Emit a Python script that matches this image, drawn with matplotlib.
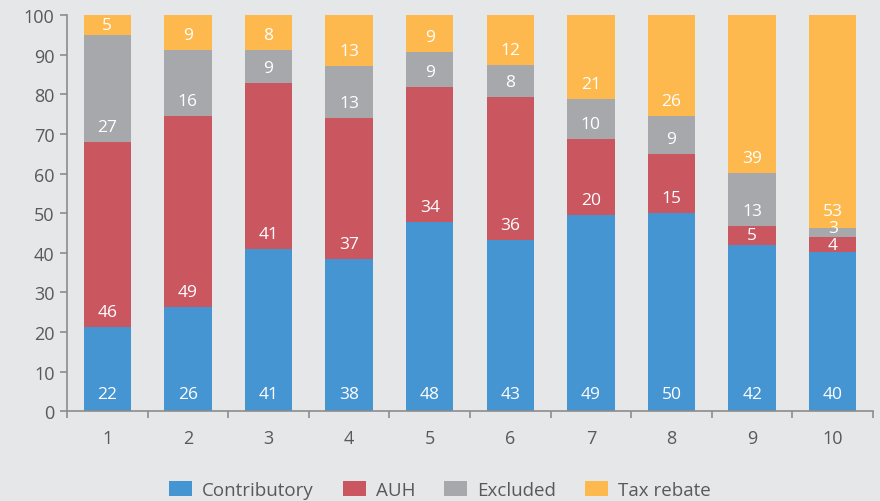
import numpy as np
import matplotlib
matplotlib.use("Agg")
import matplotlib.pyplot as plt

plt.rcParams['font.family'] = ['Open Sans', 'DejaVu Sans']

categories = ['1', '2', '3', '4', '5', '6', '7', '8', '9', '10']
series = ['Contributory', 'AUH', 'Excluded', 'Tax rebate']

# segment heights
contributory = [21.3, 26.4, 41.0, 38.4, 47.8, 43.2, 49.6, 50.1, 42.0, 40.1]
auh = [46.7, 48.1, 41.8, 35.6, 34.0, 36.1, 19.1, 14.8, 4.8, 3.9]
excluded = [27.0, 16.7, 8.3, 13.1, 8.9, 8.1, 10.1, 9.6, 13.3, 2.3]
tax_rebate = [5.0, 8.8, 8.8, 12.9, 9.3, 12.6, 21.2, 25.5, 39.9, 53.7]

# printed labels
contributory_lbl = [22, 26, 41, 38, 48, 43, 49, 50, 42, 40]
auh_lbl = [46, 49, 41, 37, 34, 36, 20, 15, 5, 4]
excluded_lbl = [27, 16, 9, 13, 9, 8, 10, 9, 13, 3]
tax_rebate_lbl = [5, 9, 8, 13, 9, 12, 21, 26, 39, 53]

colors = ['#4695D3', '#CA5760', '#A7A8AB', '#FDB94D']
bg = '#E6E7E9'
txt = '#595959'
axc = '#8C8C8C'

fig = plt.figure(figsize=(8.8, 5.02), dpi=100, facecolor=bg)
ax = fig.add_axes([0.0761, 0.1787, 0.916, 0.7893], facecolor=bg)

x = np.arange(len(categories))
width = 0.587
values = [contributory, auh, excluded, tax_rebate]
labels = [contributory_lbl, auh_lbl, excluded_lbl, tax_rebate_lbl]

bottom = np.zeros(len(categories))
last_pos = np.full(len(categories), -100.0)
for k, (vals, lbls) in enumerate(zip(values, labels)):
    vals = np.array(vals)
    ax.bar(x, vals, width, bottom=bottom, color=colors[k], label=series[k], zorder=2)
    for i in range(len(x)):
        off = 4.4 if k == 0 else min(3.8, vals[i] / 2)
        pos = bottom[i] + off
        if pos - last_pos[i] < 4.2:
            pos = last_pos[i] + 4.2
        last_pos[i] = pos
        ax.text(x[i], pos, str(lbls[i]), ha='center', va='center',
                color='white', fontsize=12.5, zorder=3)
    bottom += vals

ax.set_xlim(-0.5, len(categories) - 0.5)
ax.set_ylim(0, 100)
ax.set_yticks(np.arange(0, 101, 10))
ax.set_xticks(np.arange(-0.5, len(categories), 1.0))
ax.set_xticklabels([])
ax.set_xticks(x, minor=True)
ax.set_xticklabels(categories, minor=True)

ax.tick_params(axis='x', which='major', direction='out', length=5, color=axc, width=1.2)
ax.tick_params(axis='x', which='minor', length=0, pad=13, labelsize=13, labelcolor=txt)
ax.tick_params(axis='y', direction='out', length=5, color=axc, width=1.2,
               labelsize=13, labelcolor=txt, pad=4)

for s in ['top', 'right']:
    ax.spines[s].set_visible(False)
for s in ['left', 'bottom']:
    ax.spines[s].set_color(axc)
    ax.spines[s].set_linewidth(1.2)

leg = fig.legend(loc='center', bbox_to_anchor=(0.5, 0.022), ncol=4, frameon=False,
                 fontsize=13.5, handlelength=1.23, handleheight=0.8, columnspacing=1.55,
                 handletextpad=0.53)
for t in leg.get_texts():
    t.set_color(txt)

fig.savefig('out.png', dpi=100, facecolor=bg)
